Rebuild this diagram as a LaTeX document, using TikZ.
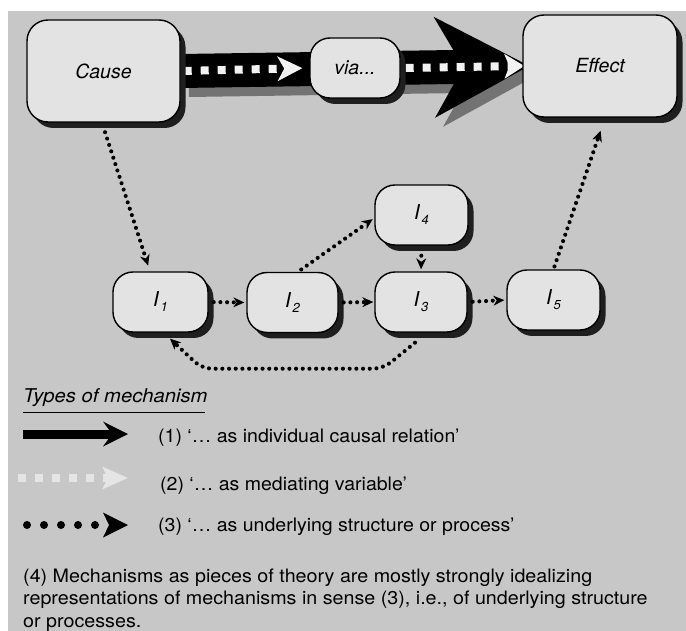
\documentclass[tikz,border=0pt]{standalone}
\usepackage{fontspec}
\setmainfont{TeX Gyre Heros}
\newfontfamily\legfont[FakeStretch=1.05]{TeX Gyre Heros}
\newfontfamily\parfont[FakeStretch=1.065]{TeX Gyre Heros}
\usetikzlibrary{arrows.meta,shadows}
\definecolor{bggray}{gray}{0.78}
\definecolor{boxgray}{gray}{0.89}
\definecolor{shadowc}{gray}{0.12}
\definecolor{arrshadow}{gray}{0.45}
\definecolor{sqwhite}{gray}{0.95}
\definecolor{legwhite}{gray}{0.9}
\pgfdeclarelayer{back}
\pgfdeclarelayer{arrowlayer}
\pgfsetlayers{back,arrowlayer,main}
\newcommand{\ilab}[1]{\textit{I}\kern1.5pt\raisebox{-5pt}{\fontsize{13}{13}\selectfont\itshape #1}}
\begin{document}
\begin{tikzpicture}[x=1pt,y=-1pt,
  lbl/.style={font=\fontsize{19.5}{22}\selectfont\itshape},
  ibl/.style={font=\fontsize{20.5}{22}\selectfont},
  legt/.style={font=\legfont\fontsize{18.6}{22.5}\selectfont, inner sep=0pt, anchor=base west},
  part/.style={font=\parfont\fontsize{18.5}{22.5}\selectfont, inner sep=0pt, anchor=base west},
  box/.style={draw=black, line width=1.4pt, fill=boxgray, inner sep=0pt,
    drop shadow={shadow xshift=5.5pt, shadow yshift=-6pt, fill=shadowc, opacity=1}},
  bigbox/.style={box, rounded corners=21pt, minimum width=153pt, minimum height=102pt},
  pill/.style={box, rounded corners=20pt, minimum width=93pt, minimum height=60pt},
  dotarr/.style={line width=4.1pt, line cap=round, dash pattern=on 0pt off 6.7pt,
    -{Stealth[length=11pt,width=10pt,inset=3.5pt,line width=0pt]}},
  bigarr/.style={line width=34pt,
    -{Stealth[length=95pt,width=101pt,inset=29pt,line width=0pt]}, shorten >=-7pt},
  sq/.style={sqwhite, line width=8pt, dash pattern=on 8pt off 9pt},
]
\useasboundingbox (0,0) rectangle (686,631);
\begin{pgfonlayer}{back}
  \fill[white] (0,0) rectangle (686,631);
  \fill[bggray] (8,11) rectangle (686,631);
\end{pgfonlayer}

% main nodes
\node[bigbox, lbl] (cause) at (103.5,71) {Cause};
\node[pill, lbl, minimum width=90pt] (via) at (355,68) {via...};
\node[bigbox, lbl, minimum width=154pt] (effect) at (600,66) {Effect};
\node[pill, ibl, minimum width=95pt] (i1) at (160.5,302) {\ilab{1}};
\node[pill, ibl, minimum width=91pt] (i2) at (292.5,302.5) {\ilab{2}};
\node[pill, ibl, minimum width=92pt] (i3) at (421,302) {\ilab{3}};
\node[pill, ibl] (i4) at (421.5,215) {\ilab{4}};
\node[pill, ibl] (i5) at (553.5,300) {\ilab{5}};

% big causal arrow with mediating squares
\begin{pgfonlayer}{arrowlayer}
  \draw[bigarr, arrshadow, transform canvas={shift={(8pt,-9pt)}}] (cause.east) -- (effect.west);
  \draw[bigarr, black] (cause.east) -- (effect.west);
  \draw[sq, shorten <=3pt, shorten >=7pt,
    -{Stealth[length=25pt,width=25pt,inset=7pt,line width=0pt]}] (cause.east) -- (via.west);
  \draw[sq, shorten <=5pt, shorten >=-2pt,
    -{Stealth[length=20pt,width=25pt,inset=5pt,line width=0pt]}] (via.east) -- (effect.west);
\end{pgfonlayer}

% underlying structure (dotted)
\draw[dotarr, shorten <=10pt, shorten >=6pt] ([xshift=-1.5pt]cause.south) -- ([xshift=-10.5pt]i1.north);
\draw[dotarr, shorten <=5pt, shorten >=2pt] (i1.east) -- (i2.west);
\draw[dotarr, shorten <=5pt, shorten >=1pt] (i2.east) -- (i3.west);
\draw[dotarr, shorten <=5pt, shorten >=2pt] (i3.east) -- (i5.west);
\draw[dotarr, shorten <=10pt, shorten >=2pt] (i4.south) -- (i3.north);
\draw[dotarr, shorten <=4pt, shorten >=2pt] ([xshift=5.5pt]i2.north) -- ([yshift=-3pt]i4.west);
\draw[dotarr, shorten <=3pt, shorten >=13.7pt] (i5.north) -- ([xshift=5pt]effect.south);
\draw[dotarr, rounded corners=10pt] ([xshift=-6pt,yshift=-10pt]i3.south)
  -- ([xshift=-38pt,yshift=-36pt]i3.south)
  -- ([xshift=41.5pt,yshift=-36pt]i1.south)
  -- ([xshift=9.5pt,yshift=-6pt]i1.south);

% legend
\node[legt, font=\parfont\fontsize{19}{22.5}\selectfont\itshape] (types) at (23,402) {Types of mechanism};
\draw[line width=1pt] (23,412) -- (205,412);

\coordinate (l1a) at (23,434); \coordinate (l1b) at (128,434);
\draw[line width=9pt, -{Stealth[length=25pt,width=25pt,inset=9pt,line width=0pt]}] (l1a) -- (l1b);
\node[legt] (t1) at (158,442) {(1) ‘… as individual causal relation’};

\coordinate (l2a) at (18,478); \coordinate (l2b) at (128,478);
\draw[legwhite, line width=8pt, dash pattern=on 8pt off 9pt,
  -{Stealth[length=26pt,width=23pt,inset=6pt,line width=0pt]}] (l2a) -- (l2b);
\node[legt] (t2) at (160,490) {(2) ‘… as mediating variable’};

\coordinate (l3a) at (27,525); \coordinate (l3b) at (128,525);
\draw[line width=8pt, line cap=round, dash pattern=on 0pt off 17pt,
  -{Stealth[length=25pt,width=25pt,inset=6pt,line width=0pt]}] (l3a) -- (l3b);
\node[legt] (t3) at (158,531) {(3) ‘… as underlying structure or process’};

\node[part] (p1) at (23,582) {(4) Mechanisms as pieces of theory are mostly strongly idealizing};
\node[part] (p2) at (23,604.5) {representations of mechanisms in sense (3), i.e., of underlying structure};
\node[part] (p3) at (23,627) {or processes.};
\end{tikzpicture}
\end{document}
